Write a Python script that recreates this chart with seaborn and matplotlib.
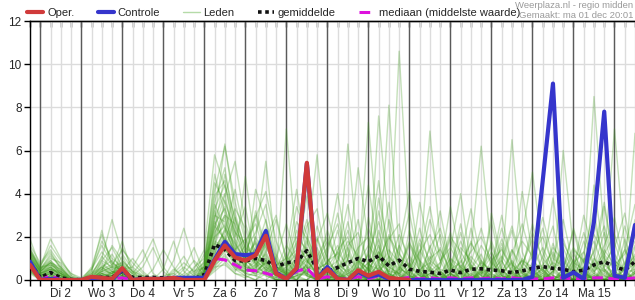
import numpy as np
import pandas as pd
import matplotlib
matplotlib.use("Agg")
import matplotlib.pyplot as plt
from matplotlib.lines import Line2D
import seaborn as sns

# ---------------- data ----------------
day_labels = ["Di 2", "Wo 3", "Do 4", "Vr 5", "Za 6", "Zo 7", "Ma 8",
              "Di 9", "Wo 10", "Do 11", "Vr 12", "Za 13", "Zo 14", "Ma 15"]

# 6-hourly steps, from ma 1 dec 18:00
oper = [0.7, 0.0, 0.0, 0.0, 0.0, 0.0, 0.15, 0.1, 0.05, 0.55,
        0.0, 0.05, 0.05, 0.05, 0.1, 0.0, 0.0, 0.0, 0.9, 1.6,
        1.05, 0.9, 1.15, 2.05, 0.3, 0.05, 0.55, 5.43, 0.05, 0.5,
        0.05, 0.0, 0.45, 0.2, 0.38, 0.1, 0.05, 0.0]

controle = [0.85, 0.0, 0.05, 0.0, 0.0, 0.0, 0.1, 0.1, 0.0, 0.5,
            0.0, 0.05, 0.05, 0.05, 0.1, 0.1, 0.1, 0.1, 0.95, 1.77,
            1.2, 1.15, 1.2, 2.27, 0.35, 0.05, 0.5, 5.4, 0.05, 0.6,
            0.05, 0.0, 0.38, 0.15, 0.25, 0.05, 0.0, 0.0, 0.0, 0.0,
            0.0, 0.0, 0.0, 0.0, 0.0, 0.0, 0.0, 0.0, 0.0, 0.15,
            4.6, 9.1, 0.1, 0.35, 0.05, 2.7, 7.8, 0.2, 0.1, 2.55]

gemiddelde = [0.8, 0.1, 0.35, 0.1, 0.02, 0.02, 0.1, 0.12, 0.12, 0.42,
              0.12, 0.12, 0.12, 0.1, 0.1, 0.05, 0.05, 0.25, 1.65, 1.4,
              0.9, 0.88, 1.0, 0.9, 0.62, 0.8, 0.85, 1.36, 0.5, 0.4,
              0.58, 0.8, 1.0, 0.85, 1.12, 0.65, 0.92, 0.5, 0.4, 0.36,
              0.3, 0.46, 0.34, 0.5, 0.52, 0.46, 0.43, 0.34, 0.42, 0.54,
              0.62, 0.54, 0.5, 0.38, 0.46, 0.7, 0.85, 0.62, 0.46, 0.85]

mediaan = [0.7, 0.0, 0.2, 0.0, 0.0, 0.0, 0.05, 0.05, 0.05, 0.1,
           0.0, 0.0, 0.0, 0.0, 0.05, 0.0, 0.0, 0.0, 1.0, 0.93,
           0.7, 0.46, 0.43, 0.31, 0.18, 0.1, 0.4, 0.55, 0.05, 0.15,
           0.05, 0.05, 0.15, 0.05, 0.2, 0.05, 0.05, 0.12, 0.05, 0.1,
           0.05, 0.1, 0.05, 0.1, 0.05, 0.1, 0.05, 0.1, 0.05, 0.05,
           0.05, 0.1, 0.1, 0.05, 0.05, 0.1, 0.1, 0.05, 0.05, 0.1]

leden = [
    [0.9,0.3,0.5,0.2,0.0,0.0,0.1,0.3,0.2,0.8, 0.1,0.0,0.0,0.2,0.3,0.0,0.0,0.2,2.1,3.4,
     1.2,0.8,1.5,2.4,0.6,0.3,1.1,2.8,0.4,0.2, 0.5,1.2,0.3,0.0,0.8,2.1,0.6,0.2,0.0,0.3,
     0.1,0.0,0.4,1.8,0.6,0.2,0.0,0.3,0.9,0.2, 0.0,0.4,1.5,0.3,0.0,0.6,2.2,0.8,0.3,0.5],
    [1.2,0.5,1.1,0.6,0.1,0.0,0.0,0.5,1.2,0.4, 0.0,0.2,0.0,0.0,0.0,0.1,0.4,0.8,3.6,5.2,
     2.3,1.0,0.4,0.8,0.2,0.6,1.8,0.9,0.3,0.0, 0.2,0.0,0.6,2.4,1.1,0.3,0.0,0.0,1.4,0.5,
     0.0,0.2,0.9,0.0,0.0,0.3,1.7,0.4,0.0,0.1, 0.6,0.2,0.0,0.0,1.3,3.2,0.5,0.1,0.0,0.3],
    [0.5,0.0,0.2,0.0,0.0,0.0,0.0,0.0,0.1,0.2, 0.0,0.0,0.0,0.0,0.0,0.0,0.0,0.0,0.9,1.6,
     0.7,0.3,0.2,1.0,0.1,0.0,0.4,0.6,0.0,0.0, 0.0,0.3,0.1,0.0,0.0,0.5,0.2,0.0,0.0,0.0,
     0.3,0.0,0.0,0.0,0.2,0.0,0.0,0.6,0.1,0.0, 0.0,0.0,0.3,0.0,0.0,0.0,0.4,0.0,0.0,0.1],
    [1.9,0.6,1.9,1.0,0.2,0.0,0.4,2.3,0.6,1.8, 0.3,0.0,0.0,0.1,0.0,0.0,0.0,0.3,2.8,6.3,
     3.1,1.4,2.2,3.5,1.0,0.4,2.3,1.2,0.5,0.8, 1.6,0.4,0.0,0.7,3.2,1.0,0.2,0.0,0.6,2.8,
     1.2,0.0,0.3,0.8,2.4,0.6,0.0,0.0,0.7,1.9, 0.4,0.0,0.2,0.9,0.0,0.5,1.6,2.9,0.6,1.1],
    [0.7,0.2,0.4,0.1,0.0,0.0,0.0,0.2,0.0,0.5, 0.0,0.0,0.5,1.4,0.6,0.0,0.0,0.1,1.5,2.2,
     4.2,2.0,0.7,0.3,0.0,0.2,0.9,3.9,1.3,0.2, 0.0,0.0,0.4,0.8,0.0,0.0,1.5,4.1,0.9,0.0,
     0.0,0.5,2.6,0.4,0.0,0.0,0.3,0.8,0.0,0.0, 1.1,2.5,0.3,0.0,0.0,0.8,0.2,0.0,0.6,2.4],
    [1.0,0.4,0.8,0.3,0.0,0.0,0.1,0.6,0.9,0.3, 0.2,0.0,0.0,0.0,0.4,1.1,0.3,0.6,4.9,3.1,
     1.8,0.9,3.2,1.5,0.7,0.1,0.0,0.5,2.0,0.6, 0.3,6.3,1.2,0.0,0.4,0.9,0.0,0.2,0.0,0.7,
     2.1,0.6,0.0,0.0,0.5,1.3,0.2,0.0,0.0,0.6, 0.0,0.3,1.9,0.5,0.0,0.0,0.7,0.3,0.0,0.0],
    [0.4,0.0,0.1,0.0,0.0,0.0,0.0,0.1,0.3,0.6, 0.0,0.0,0.0,0.0,0.0,0.0,0.0,0.0,0.6,1.2,
     0.5,0.4,1.1,0.6,0.2,7.0,1.4,0.3,0.0,0.4, 0.1,0.0,0.0,0.3,1.0,0.4,0.0,0.0,0.2,0.0,
     0.0,0.0,0.0,0.7,0.2,0.0,0.0,0.0,0.4,0.0, 0.0,0.6,0.1,0.0,0.3,0.0,0.0,0.4,0.1,0.0],
    [1.4,0.7,1.3,0.5,0.1,0.0,0.3,1.0,2.8,1.2, 0.5,0.1,0.0,0.0,0.0,0.2,0.5,1.4,5.8,4.3,
     2.5,1.3,0.9,2.2,0.4,0.8,3.4,2.1,0.7,0.0, 0.9,2.7,0.6,0.0,7.6,2.4,0.5,0.0,0.0,1.6,
     0.4,0.0,1.1,3.3,0.8,0.0,0.0,1.4,0.3,0.0, 0.0,1.7,0.4,0.0,0.9,1.8,0.5,0.0,0.0,0.7],
    [0.6,0.1,0.3,0.0,0.0,0.0,0.0,0.2,0.1,0.3, 0.0,0.0,0.0,0.0,0.0,0.0,0.1,0.2,1.9,2.6,
     1.0,0.5,0.3,0.9,0.3,0.0,0.5,1.6,5.8,1.0, 0.2,0.0,0.0,0.6,0.1,0.0,0.3,0.8,0.2,0.0,
     0.0,0.3,0.0,0.0,0.0,0.9,0.2,0.0,0.0,0.4, 0.1,0.0,0.0,0.5,0.0,0.2,0.0,0.0,0.3,0.0],
    [0.8,0.3,0.6,0.2,0.0,0.0,0.0,0.4,0.3,1.1, 0.2,0.6,1.5,0.4,0.0,0.0,0.0,0.4,3.2,1.7,
     1.1,4.8,1.6,0.4,0.1,0.3,1.0,0.4,0.3,1.2, 3.1,0.8,0.2,0.0,0.0,0.6,10.6,2.2,0.4,0.0,
     0.0,0.0,0.6,0.2,0.0,0.0,0.8,2.3,0.5,0.0, 0.0,0.0,0.3,1.2,0.4,0.0,0.0,0.2,1.4,0.3],
    [1.1,0.4,0.9,0.4,0.0,0.0,0.2,0.8,0.4,0.2, 0.0,0.0,0.0,0.0,0.9,2.4,0.8,0.2,1.2,2.0,
     0.8,0.6,0.5,1.3,2.8,0.9,0.2,0.0,0.6,2.3, 0.7,0.0,0.3,1.2,0.4,8.1,1.3,0.0,0.0,0.5,
     1.5,0.3,0.0,0.0,0.3,2.7,0.5,0.0,0.0,0.0, 0.4,0.0,0.0,0.0,0.6,8.5,2.0,0.3,0.0,0.0],
    [0.3,0.0,0.0,0.0,0.0,0.0,0.0,0.0,0.0,0.1, 0.0,0.0,0.0,0.0,0.0,0.0,0.0,0.0,0.4,0.8,
     0.3,0.2,0.0,0.5,0.0,0.0,0.2,0.3,0.0,0.0, 0.0,0.4,0.0,0.0,0.2,0.0,0.0,0.5,0.0,0.0,
     0.2,0.0,0.0,0.3,0.0,0.0,0.0,0.2,0.0,0.0, 0.0,0.2,0.0,0.0,0.0,0.3,0.0,0.0,0.0,0.2],
    [1.5,0.5,1.0,0.8,0.3,0.1,0.5,1.6,0.8,0.5, 0.6,1.4,0.3,0.0,0.0,0.0,0.2,0.9,2.4,3.9,
     5.5,2.6,1.3,0.7,0.3,0.4,0.0,0.8,1.5,0.3, 0.0,1.0,2.8,0.5,0.0,0.0,0.4,1.6,0.6,6.9,
     1.8,0.2,0.0,0.5,1.2,0.0,0.0,0.0,2.1,5.0, 1.3,0.2,0.0,0.0,0.0,1.0,0.4,0.0,0.8,1.8],
    [0.9,0.2,0.4,0.1,0.0,0.0,0.0,0.3,0.5,0.7, 0.1,0.0,0.0,0.0,0.0,0.0,0.0,0.2,1.6,2.9,
     1.4,0.7,1.9,5.5,1.2,0.2,0.6,0.2,0.0,0.2, 0.0,0.0,0.8,0.3,1.6,0.2,0.0,0.3,1.7,0.4,
     0.0,0.0,0.5,0.1,0.0,0.6,3.0,0.7,0.0,0.0, 0.2,0.0,0.0,0.7,0.2,0.0,0.9,7.0,1.5,0.0],
    [0.6,0.0,0.2,0.0,0.0,0.0,0.0,0.0,0.2,0.4, 0.0,0.0,0.0,0.0,0.0,0.0,0.0,0.1,0.7,1.4,
     0.9,0.3,0.6,0.3,0.0,0.1,0.8,0.2,0.0,0.0, 0.6,0.2,0.0,0.0,0.5,0.2,0.0,0.0,0.0,0.3,
     0.0,0.0,0.2,0.0,0.4,0.0,0.0,0.3,0.0,0.2, 0.5,0.0,0.0,0.2,0.0,0.0,0.3,0.0,0.0,0.4],
    [1.3,0.6,0.7,0.3,0.0,0.0,0.0,0.9,1.5,0.6, 0.0,0.0,0.2,0.0,0.0,0.0,0.6,1.0,4.1,6.2,
     3.6,1.8,2.6,1.1,0.5,0.7,2.7,1.9,0.2,0.6, 2.3,0.5,0.0,1.4,4.6,0.8,0.0,0.5,2.4,0.6,
     0.0,1.4,4.0,0.6,0.0,0.0,0.6,6.5,1.3,0.2, 0.0,0.0,0.5,2.3,0.4,0.0,0.0,1.2,0.4,0.0],
    [0.5,0.1,0.3,0.2,0.0,0.0,0.0,0.1,0.0,0.2, 0.0,0.0,0.0,0.0,0.0,0.0,0.0,0.0,1.1,0.9,
     0.4,1.2,0.8,0.2,0.0,0.3,0.1,0.0,0.4,0.0, 0.0,0.0,0.3,0.0,0.0,0.0,0.6,0.2,0.0,0.0,
     0.4,0.0,0.0,0.0,0.0,0.2,0.0,0.0,0.0,0.3, 0.0,0.0,0.0,0.0,0.4,0.0,0.0,0.0,0.2,0.0],
    [1.0,0.3,0.5,0.4,0.1,0.0,0.2,0.5,0.3,0.9, 0.4,0.0,0.0,0.0,0.0,0.5,1.5,0.3,2.6,3.3,
     2.0,3.4,0.9,0.5,0.2,0.9,1.4,0.6,0.0,0.9, 1.2,3.5,0.9,0.2,0.0,1.9,2.6,0.4,0.0,0.0,
     0.8,2.2,0.5,0.0,0.0,0.4,0.9,0.0,0.5,2.6, 0.8,0.0,0.0,0.4,3.0,1.1,0.0,0.0,0.5,2.8],
    [0.7,0.2,0.3,0.0,0.0,0.0,0.0,0.0,0.4,0.2, 0.0,0.0,0.0,0.0,0.0,0.0,0.0,0.0,0.8,1.3,
     2.9,0.8,0.2,0.0,0.4,0.0,0.2,0.7,0.3,0.0, 0.4,0.0,0.0,0.2,0.7,0.0,0.0,0.0,0.3,0.0,
     0.0,0.3,0.0,0.0,0.5,0.0,0.2,0.0,0.0,0.0, 0.3,0.0,0.4,0.0,0.0,0.2,0.0,0.0,0.0,0.4],
    [1.2,0.5,0.9,0.4,0.0,0.0,0.3,0.6,0.2,0.4, 0.0,0.0,0.0,0.5,1.8,0.4,0.0,0.5,3.5,2.4,
     1.2,0.6,4.2,2.7,0.8,0.2,0.5,0.9,0.3,0.0, 0.0,1.5,0.4,0.0,0.9,3.6,0.7,0.0,0.4,1.1,
     0.3,0.0,0.0,1.4,6.2,1.3,0.2,0.0,0.0,0.8, 2.4,0.6,0.0,0.0,0.2,1.4,3.6,0.8,0.0,0.0],
    [0.4,0.0,0.2,0.0,0.0,0.0,0.0,0.2,0.0,0.0, 0.0,0.0,0.0,0.0,0.0,0.0,0.0,0.0,0.5,1.0,
     0.6,0.3,0.2,0.4,0.0,0.0,0.3,0.2,0.0,0.3, 0.2,0.0,0.0,0.5,0.0,0.3,0.0,0.0,0.0,0.4,
     0.0,0.0,0.3,0.0,0.0,0.0,0.5,0.0,0.2,0.0, 0.0,0.4,0.0,0.0,0.0,0.0,0.2,0.0,0.5,0.0],
    [1.6,0.8,1.4,0.7,0.2,0.0,0.5,1.3,0.7,1.4, 0.8,0.3,0.0,0.0,0.0,0.0,0.0,0.7,3.9,4.6,
     1.9,1.1,2.9,4.1,1.8,0.6,1.2,4.4,1.0,0.4, 0.5,0.9,5.2,1.8,0.3,0.0,1.2,3.1,0.8,0.0,
     0.6,3.4,1.0,0.0,0.4,1.1,0.0,0.3,4.1,1.2, 0.0,0.0,6.0,1.4,0.0,0.4,1.1,0.0,0.0,1.5],
    [0.8,0.2,0.5,0.3,0.0,0.0,0.0,0.3,0.1,0.6, 0.1,0.0,0.0,0.0,0.0,0.0,0.0,0.3,1.3,2.1,
     0.9,0.4,0.7,1.6,0.5,0.3,0.0,0.5,0.9,0.1, 0.0,0.6,0.2,0.0,0.0,0.4,0.3,0.0,0.5,0.2,
     0.0,0.0,0.7,0.3,0.0,0.0,0.0,0.4,0.0,0.0, 0.5,0.0,0.0,0.0,0.6,0.0,0.0,0.3,0.0,0.0],
    [1.1,0.4,0.7,0.5,0.0,0.0,0.1,0.4,0.6,0.3, 0.0,0.0,0.0,0.0,0.0,0.0,0.2,0.6,2.3,4.9,
     2.8,1.5,0.6,0.9,0.3,1.3,4.2,1.1,0.3,0.0, 0.3,0.0,1.3,4.4,1.2,0.0,0.0,0.7,0.2,0.0,
     0.0,0.8,0.0,0.0,0.9,0.3,0.0,0.0,1.0,0.4, 0.0,1.2,0.3,0.0,0.0,4.4,1.0,0.0,0.0,0.3],
    [0.5,0.0,0.1,0.0,0.0,0.0,0.0,0.0,0.0,0.2, 0.0,0.0,0.0,0.0,0.0,0.0,0.0,0.0,0.6,0.7,
     0.3,0.1,0.4,0.2,0.0,0.0,0.2,0.4,0.0,0.0, 0.0,0.2,0.0,0.0,0.3,0.0,0.0,0.0,0.3,0.0,
     0.0,0.0,0.0,0.2,0.0,0.0,0.3,0.0,0.0,0.0, 0.2,0.0,0.0,0.0,0.0,0.2,0.0,0.0,0.0,0.0],
    [0.9,0.3,0.6,0.2,0.0,0.0,0.0,0.5,0.7,0.4, 0.2,0.0,0.0,0.0,0.0,0.3,0.9,0.4,3.0,2.7,
     1.6,0.9,1.3,2.8,0.9,0.3,0.5,1.5,0.4,1.4, 4.0,1.3,0.4,0.0,2.3,0.6,0.3,0.0,0.0,0.8,
     3.2,0.7,0.0,0.0,0.0,0.6,1.5,0.3,0.0,0.0, 0.6,3.8,0.8,0.0,0.0,0.0,0.6,1.7,0.4,0.0],
    [0.6,0.1,0.2,0.1,0.0,0.0,0.0,0.1,0.2,0.1, 0.0,0.0,0.0,0.0,0.0,0.0,0.0,0.0,1.0,1.9,
     0.8,0.5,0.3,0.6,0.2,0.0,0.7,0.3,0.0,0.0, 0.0,0.3,0.6,0.2,0.0,0.0,0.5,0.3,0.0,0.0,
     0.0,0.0,0.4,0.0,0.0,0.3,0.0,0.0,0.6,0.2, 0.0,0.0,0.0,0.4,0.0,0.0,0.0,0.2,0.0,0.0],
    [1.3,0.6,1.6,0.9,0.3,0.0,0.4,1.8,1.0,0.6, 0.3,0.9,1.9,0.6,0.0,0.0,0.0,0.8,4.5,3.6,
     2.2,1.7,0.8,0.4,1.0,2.6,0.9,0.2,1.8,3.1, 1.1,0.2,0.0,2.9,0.7,0.0,0.5,1.8,0.4,0.0,
     0.0,0.6,2.2,0.5,0.0,0.0,0.4,0.0,0.0,1.4, 0.5,0.0,0.0,0.6,2.2,0.7,0.0,0.0,1.9,0.4],
    [0.7,0.2,0.4,0.2,0.0,0.0,0.0,0.2,0.3,0.5, 0.0,0.0,0.0,0.0,0.0,0.0,0.0,0.1,1.4,2.3,
     1.3,0.6,0.4,0.3,0.1,0.4,1.1,0.6,0.0,0.0, 0.5,0.0,0.0,0.0,0.6,0.2,0.0,0.0,0.0,0.6,
     0.2,0.0,0.0,0.0,0.3,0.0,0.0,0.0,0.3,0.0, 0.0,0.0,0.5,0.0,0.0,0.3,0.0,0.0,0.2,0.0],
    [1.0,0.4,0.8,0.6,0.1,0.0,0.2,1.1,0.5,0.3, 0.0,0.0,0.0,0.0,0.5,0.2,0.0,0.4,2.7,1.8,
     3.3,2.4,1.0,0.7,0.2,0.0,0.8,2.5,3.3,0.7, 0.2,0.0,0.9,0.5,0.0,2.8,1.0,0.3,3.6,1.3,
     0.4,0.0,0.0,0.6,0.2,1.8,0.5,0.0,0.0,0.6, 1.5,0.5,0.0,0.0,0.4,2.7,0.9,0.0,0.0,6.8],
    [0.8,0.1,0.3,0.0,0.0,0.0,0.0,0.4,1.6,0.9, 0.4,0.0,0.0,0.0,0.0,0.0,0.0,0.3,2.0,2.5,
     1.5,0.7,1.8,0.9,0.3,0.0,0.4,1.8,0.6,0.0, 1.4,2.0,0.5,7.3,1.6,0.2,0.0,0.0,1.2,3.4,
     0.9,0.0,0.0,2.4,0.6,0.0,0.2,0.9,0.3,0.0, 0.0,0.9,2.8,0.6,0.0,0.0,0.0,0.6,2.5,0.8],
    [0.6,0.2,0.5,0.1,0.0,0.0,0.0,0.2,0.1,1.5, 0.6,0.2,0.0,0.0,0.0,0.0,0.3,1.2,1.7,1.4,
     0.9,1.6,3.0,1.3,0.4,0.2,0.0,0.6,0.4,0.2, 0.0,0.5,0.2,0.0,0.3,1.1,0.4,0.0,0.0,0.2,
     0.0,0.5,1.8,0.7,0.0,0.0,0.0,0.2,0.0,0.0, 0.3,0.0,0.0,1.0,0.3,0.0,0.0,0.0,0.6,0.3],
    [1.1,0.4,0.8,0.3,0.0,0.0,0.0,0.7,0.4,0.2, 0.0,0.0,0.0,0.0,0.0,0.0,0.0,0.6,2.9,4.0,
     1.7,0.9,0.6,1.9,3.0,0.9,0.3,0.7,2.5,1.0, 0.3,0.0,0.0,0.6,1.9,0.3,0.0,2.3,0.7,0.0,
     0.0,1.0,0.3,0.0,0.0,0.7,2.4,0.8,0.0,0.0, 0.0,0.4,1.1,0.2,0.0,0.9,3.4,0.7,0.0,0.0],
    [0.4,0.0,0.2,0.0,0.0,0.0,0.0,0.0,0.2,0.0, 0.0,0.0,0.0,0.0,0.0,0.0,0.0,0.0,0.7,1.1,
     0.5,0.2,0.0,0.3,0.6,0.2,0.0,0.0,0.3,0.0, 0.0,0.0,0.4,0.0,0.0,0.3,0.0,0.0,0.0,0.5,
     0.0,0.0,0.0,0.0,0.4,0.0,0.0,0.0,0.2,0.0, 0.0,0.0,0.3,0.0,0.0,0.0,0.0,0.4,0.0,0.0],
    [1.4,0.5,1.2,0.6,0.0,0.0,0.6,2.1,0.8,0.4, 1.0,0.4,0.0,0.0,0.0,0.0,0.0,0.5,2.2,3.0,
     2.6,1.2,1.7,0.8,0.5,1.6,0.9,0.3,1.1,2.0, 0.8,0.3,0.0,0.5,3.8,1.4,0.2,0.0,0.0,0.3,
     0.6,1.9,0.4,0.0,0.0,3.1,0.9,0.0,0.0,0.5, 0.0,0.0,0.0,0.8,1.3,0.4,0.0,0.0,0.3,1.2],
    [0.9,0.2,0.6,0.3,0.0,0.0,0.0,0.3,0.0,0.4, 0.0,0.0,0.0,0.0,0.0,0.0,0.0,0.2,1.8,1.5,
     0.6,0.4,0.9,0.5,0.2,0.0,0.6,1.0,0.2,0.0, 0.4,0.0,0.3,0.8,0.2,0.0,0.0,0.4,0.0,0.0,
     0.0,0.3,0.0,0.0,0.6,0.0,0.0,0.0,0.4,0.0, 0.0,0.0,0.0,0.3,0.0,0.0,0.5,0.0,0.0,0.3],
    [0.8,0.3,0.7,0.4,0.0,0.0,0.2,0.6,0.3,0.7, 0.3,0.0,0.0,0.0,0.2,0.6,0.2,0.4,2.5,1.9,
     1.4,1.9,0.7,1.2,0.4,0.6,1.3,0.8,1.9,0.5, 0.9,1.8,1.1,0.4,1.3,0.7,2.1,1.0,0.3,1.5,
     2.4,0.8,0.3,1.1,0.5,1.6,0.4,1.2,2.6,0.9, 0.4,1.5,0.9,0.3,1.8,0.6,1.2,2.1,0.7,1.6],
    [1.2,0.4,0.6,0.2,0.0,0.0,0.0,0.2,0.4,0.3, 0.0,0.0,0.0,0.0,0.0,0.0,0.0,0.3,1.6,3.7,
     2.2,1.0,1.4,0.6,0.3,1.1,0.5,2.0,0.8,1.5, 2.6,0.9,0.3,1.2,2.7,1.1,0.5,1.7,0.9,0.4,
     0.8,2.0,1.3,0.5,1.6,0.8,0.3,1.4,0.6,2.2, 1.0,0.4,1.7,0.8,0.5,1.3,2.5,0.9,0.4,1.0],
    [0.5,0.1,0.4,0.1,0.0,0.0,0.0,0.3,0.2,0.4, 0.0,0.0,0.0,0.0,0.0,0.0,0.0,0.2,1.2,2.4,
     1.7,0.9,0.5,1.8,0.9,0.2,0.9,1.3,0.5,0.8, 0.4,1.6,2.2,0.7,0.5,1.4,0.8,0.3,1.9,0.9,
     0.5,0.3,1.5,0.9,0.3,0.6,1.9,0.7,0.4,1.1, 2.0,0.7,0.3,1.4,0.9,0.4,0.8,1.5,3.1,0.6],
    [1.0,0.3,0.5,0.3,0.0,0.0,0.1,0.4,0.6,0.5, 0.1,0.0,0.0,0.0,0.0,0.0,0.0,0.4,2.0,3.0,
     1.1,0.6,2.0,1.0,0.6,0.4,1.7,0.9,0.3,0.6, 1.3,0.6,1.5,2.0,0.8,0.4,1.6,0.6,0.2,1.0,
     1.4,0.5,0.8,1.7,0.9,0.3,1.0,2.5,0.8,0.3, 0.7,1.3,0.5,2.4,0.8,0.3,1.4,0.7,1.2,2.0],
    [0.6,0.2,0.3,0.0,0.0,0.0,0.0,0.1,0.2,0.2, 0.0,0.0,0.0,0.0,0.0,0.0,0.0,0.1,1.4,1.8,
     1.0,0.7,0.4,0.8,0.3,0.5,0.3,1.2,0.6,0.3, 0.7,0.4,0.9,0.5,1.3,0.6,0.3,1.1,0.5,0.8,
     0.3,1.0,0.6,0.2,0.8,0.5,1.1,0.4,0.9,0.6, 0.3,0.8,0.5,0.2,1.0,0.6,0.4,0.9,0.5,0.7],
    [1.3,0.5,0.8,0.5,0.1,0.0,0.3,0.9,0.6,0.8, 0.4,0.2,0.0,0.0,0.3,0.8,0.4,0.6,3.3,4.4,
     2.9,1.5,1.1,1.7,0.7,1.0,2.0,1.4,0.9,1.8, 1.0,2.3,0.8,1.6,0.9,2.0,1.2,0.6,1.3,2.1,
     0.9,1.5,0.6,1.3,2.0,0.9,1.4,0.6,1.8,1.1, 2.9,1.0,0.6,1.5,0.8,2.1,1.2,0.5,1.4,3.5],
]

# ---------------- style ----------------
sns.set_theme(style="white")
plt.rcParams['font.family'] = ['Liberation Sans', 'DejaVu Sans']

n = len(controle)
steps = np.arange(n)

fig = plt.figure(figsize=(6.35, 3.0), dpi=100)
ax = fig.add_axes([30 / 635, 20 / 300, 605 / 635, 259 / 300])

# grid + day separators
ax.set_xlim(0, n - 1)
ax.set_ylim(0, 12)
ax.set_xticks(steps)
ax.set_yticks(range(0, 13, 2))
ax.grid(True, color='#dcdcdc', lw=1)
ax.set_axisbelow(True)
for d in range(1, n, 4):
    ax.axvline(d, color='#5a5a5a', lw=1, zorder=1.5)

# members
df = pd.DataFrame({
    'stap': np.tile(steps, len(leden)),
    'lid': np.repeat(np.arange(len(leden)), n),
    'neerslag': np.concatenate(leden),
})
sns.lineplot(data=df, x='stap', y='neerslag', units='lid', estimator=None,
             color='#3f9a1c', alpha=0.3, lw=1, ax=ax, legend=False, zorder=2)

sns.lineplot(x=steps, y=gemiddelde, color='#111111', lw=2.6,
             linestyle=(0, (1, 1)), ax=ax, zorder=4)
sns.lineplot(x=steps, y=mediaan, color='#dd11dd', lw=2.2,
             linestyle=(0, (3.5, 1.8)), ax=ax, zorder=4)
sns.lineplot(x=steps, y=controle, color='#3535cc', lw=3, ax=ax, zorder=5)
sns.lineplot(x=steps[:len(oper)], y=oper, color='#d03a3a', lw=3, ax=ax, zorder=6)

# ticks and labels
labels = [''] * n
for k, lab in enumerate(day_labels):
    labels[3 + 4 * k] = lab
ax.set_xticklabels(labels)
ax.set_xlabel('')
ax.set_ylabel('')
ax.tick_params(axis='x', length=4, width=1, color='black', direction='out',
               labelsize=8.5, pad=2, bottom=True)
ax.tick_params(axis='y', length=4, width=1, color='black', direction='out',
               labelsize=8.5, pad=2, left=True)
for s in ['left', 'bottom', 'top']:
    ax.spines[s].set_color('black')
    ax.spines[s].set_linewidth(1)
ax.spines['right'].set_visible(False)

sec = ax.secondary_xaxis('top')
sec.set_xticks(steps)
sec.set_xticklabels([])
sec.tick_params(direction='in', length=4, width=1, color='black')
sec.spines['top'].set_linewidth(1)

# legend
handles = [
    Line2D([], [], color='#d03a3a', lw=3),
    Line2D([], [], color='#3535cc', lw=3),
    Line2D([], [], color='#b5dba8', lw=1),
    Line2D([], [], color='#111111', lw=2.6, linestyle=(0, (1, 1))),
    Line2D([], [], color='#dd11dd', lw=2.2, linestyle=(0, (3.5, 1.8))),
]
names = ['Oper.', 'Controle', 'Leden', 'gemiddelde', 'mediaan (middelste waarde)']
fig.legend(handles, names, loc='center left', bbox_to_anchor=(27 / 635, 1 - 13 / 300),
           ncol=5, frameon=False, fontsize=8, handlelength=1.45,
           columnspacing=2.1, handletextpad=0.35, borderpad=0, borderaxespad=0)

fig.text(633 / 635, 1 - 6 / 300, 'Weerplaza.nl - regio midden', ha='right',
         va='center', fontsize=6.8, color='#9a9a9a')
fig.text(633 / 635, 1 - 16 / 300, 'Gemaakt: ma 01 dec 20:01', ha='right',
         va='center', fontsize=6.8, color='#9a9a9a')

fig.savefig('out.png', dpi=100)
